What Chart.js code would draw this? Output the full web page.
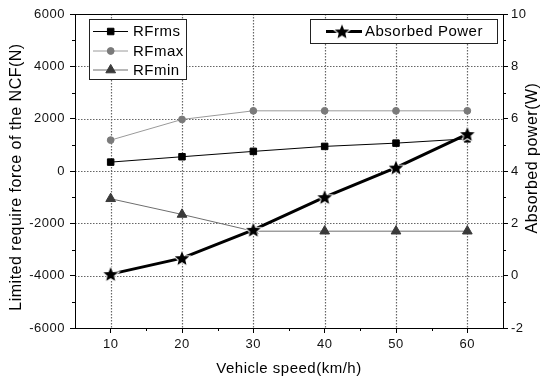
<!DOCTYPE html>
<html>
<head>
<meta charset="utf-8">
<style>
  html, body { margin: 0; padding: 0; background: #fff; }
  #wrap { width: 548px; height: 380px; }
</style>
<script src="https://cdn.jsdelivr.net/npm/chart.js@4/dist/chart.umd.min.js"></script>
</head>
<body>
<div id="wrap"><canvas id="c" width="548" height="380"></canvas></div>
<script>
// Vehicle speeds (km/h)
const speeds = [10, 20, 30, 40, 50, 60];
// Limited require force of the NCF (N)
const rfRms = [340, 545, 750, 940, 1065, 1230];
const rfMax = [1180, 1970, 2300, 2300, 2300, 2300];
const rfMin = [-1060, -1660, -2300, -2300, -2300, -2300];
// Absorbed power (W)
const absorbedPower = [0.06, 0.67, 1.75, 3.0, 4.13, 5.41];

// Tick labels
const xTicks = [10, 20, 30, 40, 50, 60];
const forceTicks = [-6000, -4000, -2000, 0, 2000, 4000, 6000];
const powerTicks = [-2, 0, 2, 4, 6, 8, 10];

const FONT = "'Liberation Sans', Arial, sans-serif";

function pts(ys) { return speeds.map((x, i) => ({ x: x, y: ys[i] })); }

// filled five-point star with a thin white halo
function makeStar(R) {
  const pad = 2;
  const size = Math.ceil(2 * R + 2 * pad);
  const c = document.createElement('canvas');
  c.width = size; c.height = size;
  const g = c.getContext('2d');
  const cx = size / 2, cy = size / 2 + R * 0.09;
  const r = R * 0.45;
  g.beginPath();
  for (let i = 0; i < 10; i++) {
    const rad = (i % 2 === 0) ? R : r;
    const a = -Math.PI / 2 + i * Math.PI / 5;
    const px = cx + rad * Math.cos(a), py = cy + rad * Math.sin(a);
    if (i === 0) g.moveTo(px, py); else g.lineTo(px, py);
  }
  g.closePath();
  g.lineJoin = 'miter';
  g.strokeStyle = '#fff';
  g.lineWidth = 2;
  g.stroke();
  g.fillStyle = '#000';
  g.fill();
  return c;
}
const starImg = makeStar(7.6);

const styles = {
  rms: { line: '#000', fill: '#000', point: 'rect', radius: 4.6 },
  max: { line: '#9a9a9a', fill: '#7a7a7a', point: 'circle', radius: 3.4 },
  min: { line: '#6e6e6e', fill: '#3a3a3a', point: 'triangle', radius: 5.6 }
};

function fixedWidth(w) { return function (s) { s.width = w; }; }

// dotted grid at the labelled values
const dottedGrid = {
  id: 'dottedGrid',
  beforeDatasetsDraw(chart) {
    const ctx = chart.ctx;
    const a = chart.chartArea;
    const x = chart.scales.x, y = chart.scales.y;
    ctx.save();
    ctx.strokeStyle = '#666666';
    ctx.lineWidth = 1.2;
    ctx.setLineDash([1.5, 1.5]);
    ctx.beginPath();
    xTicks.forEach(v => {
      const px = Math.round(x.getPixelForValue(v)) + 0.5;
      ctx.moveTo(px, a.top); ctx.lineTo(px, a.bottom);
    });
    forceTicks.slice(1, -1).forEach(v => {
      const py = Math.round(y.getPixelForValue(v)) + 0.5;
      ctx.moveTo(a.left, py); ctx.lineTo(a.right, py);
    });
    ctx.stroke();
    ctx.restore();
  }
};

const frameAndMinor = {
  id: 'frameAndMinor',
  beforeDraw(chart) {
    chart.ctx.letterSpacing = '0.5px';
  },
  afterDraw(chart) {
    const ctx = chart.ctx;
    const a = chart.chartArea;
    ctx.save();
    ctx.letterSpacing = '0.5px';
    ctx.strokeStyle = '#000';
    ctx.lineWidth = 1;
    // minor ticks between the labelled ones
    const x = chart.scales.x, y = chart.scales.y, y1 = chart.scales.y1;
    ctx.beginPath();
    for (let i = 0; i < xTicks.length - 1; i++) {
      const px = Math.round(x.getPixelForValue((xTicks[i] + xTicks[i + 1]) / 2)) + 0.5;
      ctx.moveTo(px, a.bottom); ctx.lineTo(px, a.bottom + 3);
    }
    for (let i = 0; i < forceTicks.length - 1; i++) {
      const py = Math.round(y.getPixelForValue((forceTicks[i] + forceTicks[i + 1]) / 2)) + 0.5;
      ctx.moveTo(a.left, py); ctx.lineTo(a.left - 3, py);
    }
    for (let i = 0; i < powerTicks.length - 1; i++) {
      const py = Math.round(y1.getPixelForValue((powerTicks[i] + powerTicks[i + 1]) / 2)) + 0.5;
      ctx.moveTo(a.right, py); ctx.lineTo(a.right + 3, py);
    }
    ctx.stroke();
    // plot frame
    const l = Math.round(a.left) + 0.5, t = Math.round(a.top) + 0.5;
    const r = Math.round(a.right) + 0.5, b = Math.round(a.bottom) + 0.5;
    ctx.strokeRect(l, t, r - l, b - t);

    // axis titles on both sides, read bottom-to-top
    ctx.fillStyle = '#000';
    ctx.textAlign = 'center';
    ctx.textBaseline = 'middle';
    ctx.font = '16px ' + FONT;
    const lt = y.options.title.text, rt = y1.options.title.text;
    ctx.save();
    ctx.translate(17, 177);
    ctx.rotate(-Math.PI / 2);
    ctx.fillText(lt, 0, 0);
    ctx.restore();
    ctx.save();
    ctx.translate(533, 158);
    ctx.rotate(-Math.PI / 2);
    ctx.fillText(rt, 0, 0);
    ctx.restore();
    ctx.restore();
  }
};

const legendBoxes = {
  id: 'legendBoxes',
  afterDatasetsDraw(chart) {
    const ctx = chart.ctx;
    const ds = chart.data.datasets;
    ctx.save();
    ctx.letterSpacing = '0.5px';
    ctx.font = '15px ' + FONT;
    ctx.textBaseline = 'middle';
    ctx.textAlign = 'left';

    // force series
    ctx.fillStyle = '#fff';
    ctx.fillRect(89, 19, 97, 60);
    ctx.strokeStyle = '#222';
    ctx.lineWidth = 1;
    ctx.strokeRect(89.5, 19.5, 97, 60);
    const keys = ['rms', 'max', 'min'];
    const rows = [31, 50.5, 69.5];
    keys.forEach((k, i) => {
      const st = styles[k];
      const yy = rows[i];
      ctx.strokeStyle = st.line;
      ctx.lineWidth = 1;
      ctx.beginPath();
      ctx.moveTo(93, yy + 0.5); ctx.lineTo(128, yy + 0.5);
      ctx.stroke();
      ctx.fillStyle = st.fill;
      ctx.strokeStyle = st.fill;
      Chart.helpers.drawPoint(ctx, { pointStyle: st.point, radius: st.radius, borderWidth: 1, rotation: 0 }, 110.7, yy + 0.5);
      ctx.fillStyle = '#000';
      ctx.fillText(ds[i].label, 133, yy + 1);
    });

    // power series
    ctx.fillStyle = '#fff';
    ctx.fillRect(310, 19, 187, 24);
    ctx.strokeStyle = '#222';
    ctx.lineWidth = 1;
    ctx.strokeRect(310.5, 19.5, 187, 24);
    ctx.strokeStyle = '#000';
    ctx.lineWidth = 3;
    ctx.beginPath();
    ctx.moveTo(326, 31.5); ctx.lineTo(362, 31.5);
    ctx.stroke();
    ctx.drawImage(starImg, 342 - starImg.width / 2, 31.5 - starImg.height / 2);
    ctx.fillStyle = '#000';
    ctx.fillText(ds[3].label, 365, 32);
    ctx.restore();
  }
};

const gridCommon = {
  drawOnChartArea: false,
  color: '#8c8c8c',
  lineWidth: 1,
  tickLength: 5,
  tickColor: '#000',
  tickWidth: 1
};

new Chart(document.getElementById('c'), {
  type: 'line',
  data: {
    datasets: [
      { label: 'RFrms', data: pts(rfRms), yAxisID: 'y',
        borderColor: styles.rms.line, borderWidth: 1, backgroundColor: styles.rms.fill,
        pointStyle: 'rect', pointRadius: styles.rms.radius, pointBorderColor: styles.rms.fill,
        pointBackgroundColor: styles.rms.fill, pointBorderWidth: 1, order: 3 },
      { label: 'RFmax', data: pts(rfMax), yAxisID: 'y',
        borderColor: styles.max.line, borderWidth: 1, backgroundColor: styles.max.fill,
        pointStyle: 'circle', pointRadius: styles.max.radius, pointBorderColor: styles.max.fill,
        pointBackgroundColor: styles.max.fill, pointBorderWidth: 1, order: 4 },
      { label: 'RFmin', data: pts(rfMin), yAxisID: 'y',
        borderColor: styles.min.line, borderWidth: 1, backgroundColor: styles.min.fill,
        pointStyle: 'triangle', pointRadius: styles.min.radius, pointBorderColor: styles.min.fill,
        pointBackgroundColor: styles.min.fill, pointBorderWidth: 1, order: 2 },
      { label: 'Absorbed Power', data: pts(absorbedPower), yAxisID: 'y1',
        borderColor: '#000', borderWidth: 3, backgroundColor: '#000',
        pointStyle: starImg, pointRadius: 8, order: 1 }
    ]
  },
  options: {
    responsive: false,
    animation: false,
    events: [],
    layout: { padding: { top: 14, left: 0, right: 0, bottom: 0 } },
    plugins: { legend: { display: false }, tooltip: { enabled: false } },
    scales: {
      x: {
        type: 'linear', position: 'bottom', min: 5, max: 65,
        afterBuildTicks(s) { s.ticks = xTicks.map(v => ({ value: v })); },
        afterFit(s) { s.height = 52; },
        grid: Object.assign({}, gridCommon),
        border: { display: true, color: '#000', width: 1 },
        ticks: { color: '#111', padding: 4, font: { family: FONT, size: 13 },
          callback: v => String(v), maxRotation: 0, autoSkip: false },
        title: { display: true, text: 'Vehicle speed(km/h)', color: '#000',
          font: { family: FONT, size: 15 }, padding: { top: 0, bottom: 2 } }
      },
      y: {
        type: 'linear', position: 'left', min: -6000, max: 6000,
        afterBuildTicks(s) { s.ticks = forceTicks.map(v => ({ value: v })); },
        afterFit: fixedWidth(75),
        grid: Object.assign({}, gridCommon),
        border: { display: true, color: '#000', width: 1 },
        ticks: { color: '#111', padding: 5, font: { family: FONT, size: 13 },
          callback: v => String(v), autoSkip: false },
        title: { display: false, text: 'Limited require force of the NCF(N)' }
      },
      y1: {
        type: 'linear', position: 'right', min: -2, max: 10,
        afterBuildTicks(s) { s.ticks = powerTicks.map(v => ({ value: v })); },
        afterFit: fixedWidth(45),
        grid: Object.assign({}, gridCommon),
        border: { display: true, color: '#000', width: 1 },
        ticks: { color: '#111', padding: 3, font: { family: FONT, size: 13 },
          callback: v => String(v), autoSkip: false },
        title: { display: false, text: 'Absorbed power(W)' }
      }
    }
  },
  plugins: [dottedGrid, frameAndMinor, legendBoxes]
});
</script>
</body>
</html>
